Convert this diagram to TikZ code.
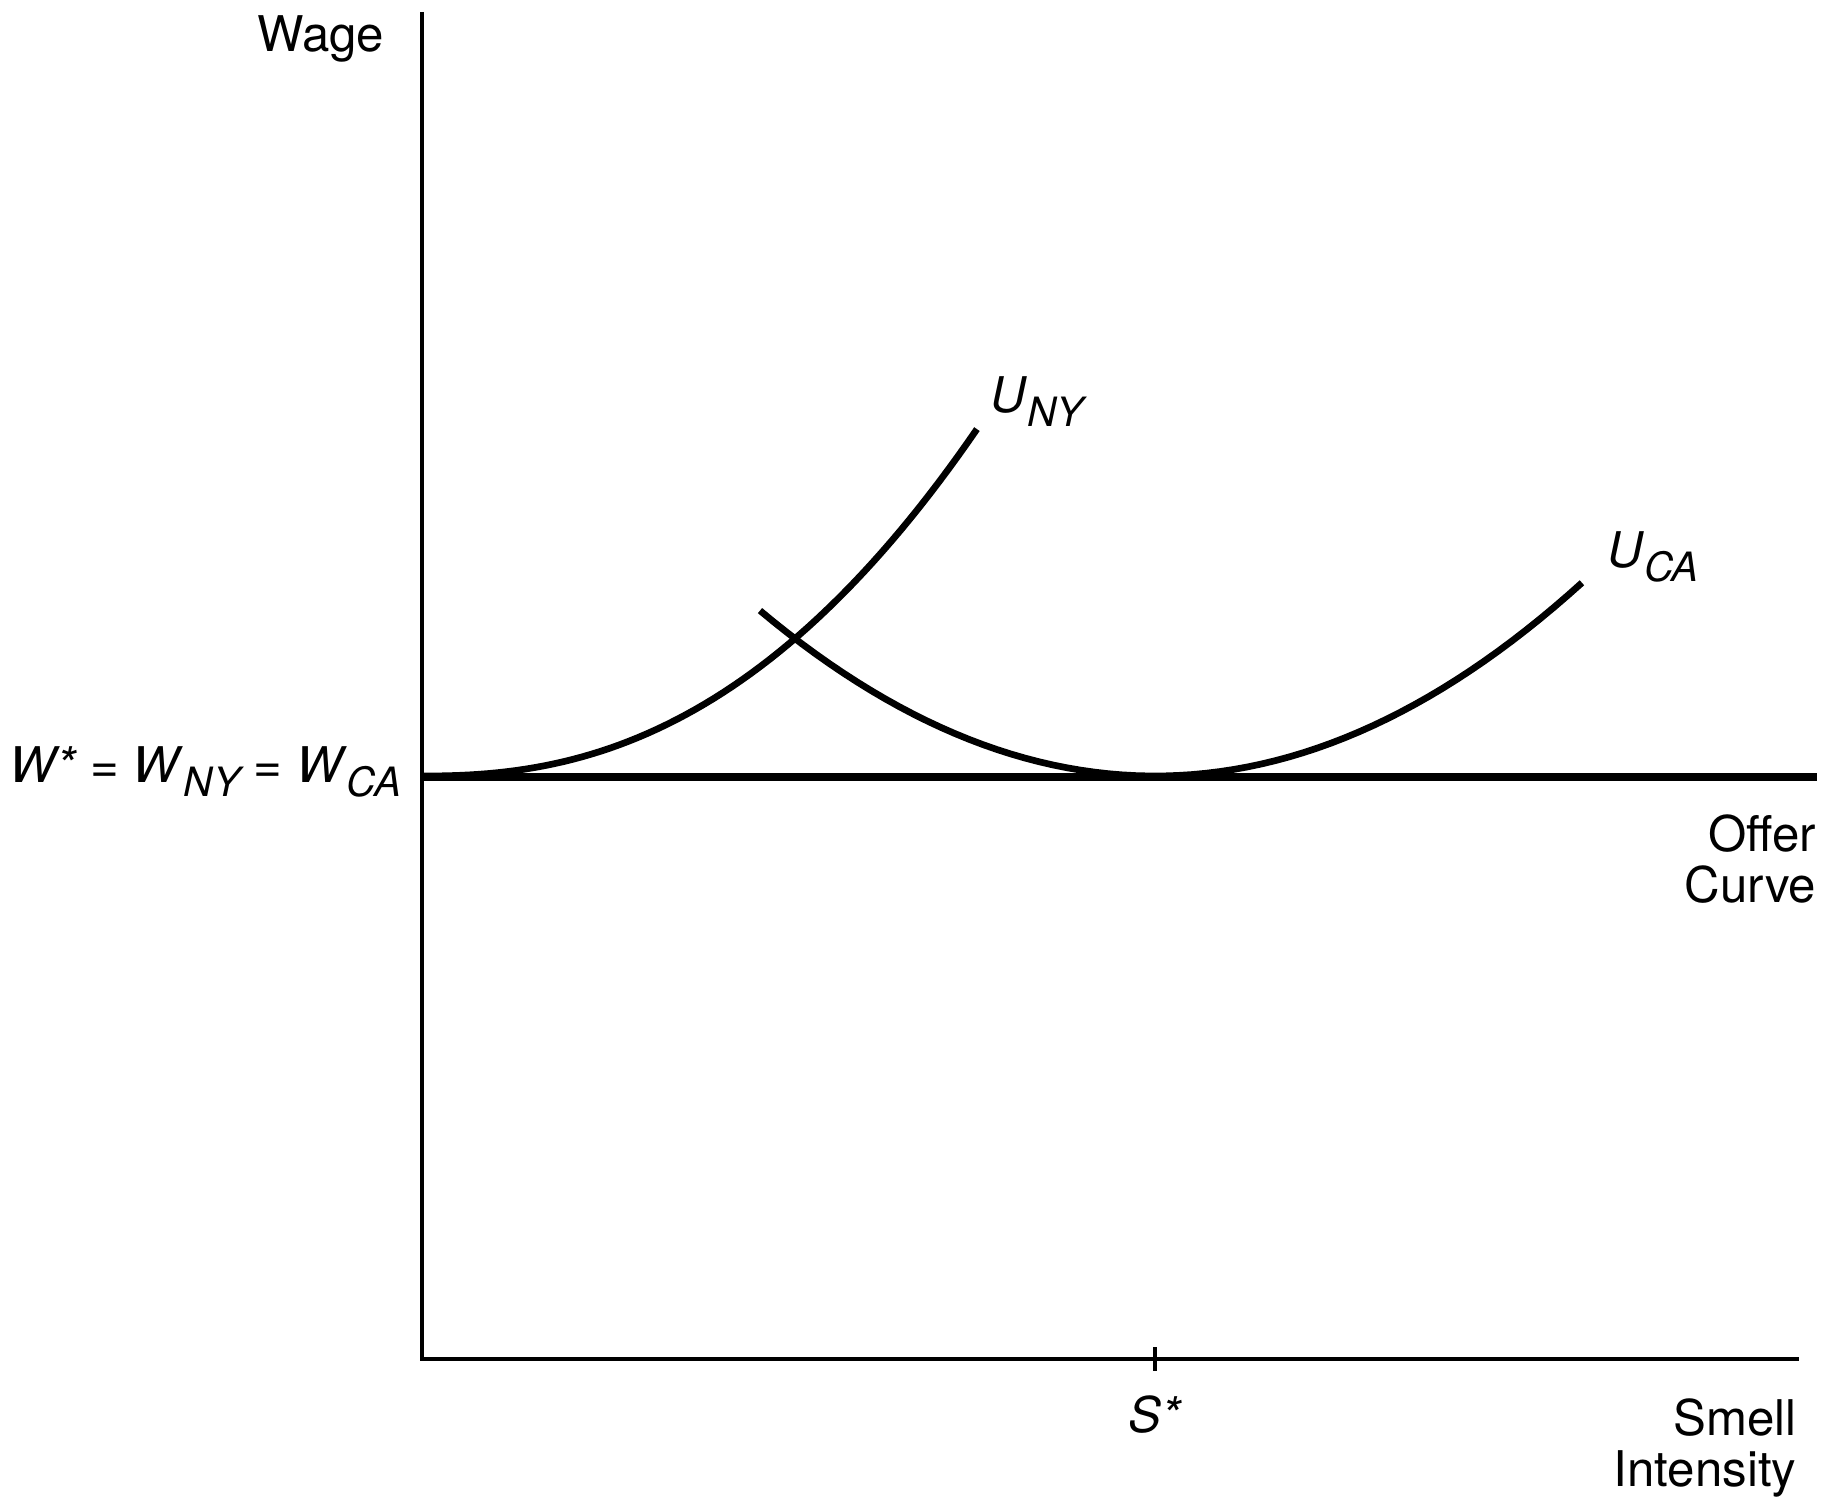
\documentclass[tikz,border=0pt]{standalone}
\usepackage{fontspec}
\setmainfont{TeX Gyre Heros}
\usetikzlibrary{positioning}
\newcommand{\subtxt}[1]{\raisebox{-0.28em}{\fontsize{11.5}{11.5}\selectfont\itshape #1}}
\tikzset{axis/.style = {line width=1.1pt},
         curve/.style = {line width=1.9pt},
         lbl/.style = {inner sep=0pt, font=\fontsize{14}{14.5}\selectfont}}

\begin{document}
\begin{tikzpicture}
    \useasboundingbox (0,0) rectangle (18.29,15);
    \coordinate (O) at (4.22,1.41);
    \coordinate (ytop) at (4.22,14.88);
    \coordinate (xend) at (17.99,1.41);
    \coordinate (w0) at (4.22,7.23);
    \coordinate (wend) at (18.17,7.23);
    \coordinate (s) at (11.55,1.41);
    \draw[axis] (ytop) -- (O) -- (xend);
    \draw[axis] ([yshift=0.12cm]s) -- ([yshift=-0.12cm]s);
    \draw[line width=2.1pt] (w0) -- (wend);
    % indifference curves
    \draw[curve] plot[domain=0.001:5.55, samples=60] ({4.22+\x},{7.24+0.064*(\x)^2.33});
    \draw[curve] plot[domain=-3.95:4.27, samples=60] ({11.55+\x},{7.24+0.106*\x*\x});
    \node[lbl, anchor=base east] (wage) at (3.85,14.48) {Wage};
    \node[lbl, anchor=base east] (wstar) at (4.02,7.17) {\textit{W*} = \textit{W}\subtxt{NY} = \textit{W}\subtxt{CA}};
    \node[lbl, anchor=base west] (uny) at (9.90,10.87) {\textit{U}\subtxt{NY}};
    \node[lbl, anchor=base west] (uca) at (16.07,9.32) {\textit{U}\subtxt{CA}};
    \node[lbl, anchor=base] (sstar) at (11.55,0.68) {\textit{S*}};
    \node[lbl, anchor=north east, align=right] (offer) at (18.17,6.86) {Offer\\Curve};
    \node[lbl, anchor=north east, align=right] (smell) at (17.97,1.02) {Smell\\Intensity};
\end{tikzpicture}
\end{document}
